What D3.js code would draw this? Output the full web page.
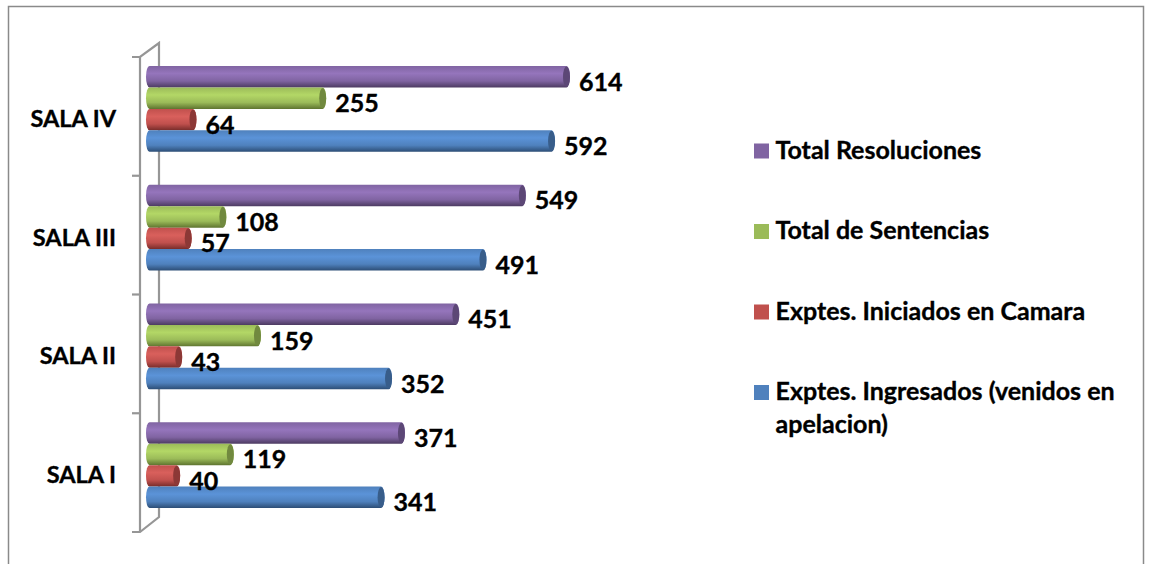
<!DOCTYPE html>
<html>
<head>
<meta charset="utf-8">
<script src="https://cdnjs.cloudflare.com/ajax/libs/d3/7.8.5/d3.min.js"></script>
<style>
  html, body { margin: 0; padding: 0; background: #fff; }
  svg { display: block; }
  text { font-family: Lato, "Noto Sans", sans-serif; font-weight: 700; fill: #000; stroke: #000; stroke-width: 0.35px; }
</style>
</head>
<body>
<svg id="chart" width="1149" height="564"></svg>
<script>
const categories = ['SALA I', 'SALA II', 'SALA III', 'SALA IV'];
// orden de abajo hacia arriba dentro de cada sala
const seriesNames = ['Exptes. Ingresados', 'Exptes. Iniciados', 'Total de Sentencias', 'Total Resoluciones'];
const ingresados = [341, 352, 491, 592];
const iniciados = [40, 43, 57, 64];
const sentencias = [119, 159, 108, 255];
const resoluciones = [371, 451, 549, 614];
const seriesValues = [ingresados, iniciados, sentencias, resoluciones];

const seriesColors = [
  { light: '#5B93D8', mid: '#4F81BD', dark: '#2C4D75', cap: '#385D8A' },
  { light: '#D9605C', mid: '#C0504D', dark: '#772C2A', cap: '#8C3836' },
  { light: '#B3D766', mid: '#9BBB59', dark: '#5F7530', cap: '#71893F' },
  { light: '#9575BC', mid: '#8064A2', dark: '#4D3B62', cap: '#5C4776' }
];
const legendLabels = [
  ['Total Resoluciones'],
  ['Total de Sentencias'],
  ['Exptes. Iniciados en Camara'],
  ['Exptes. Ingresados (venidos en', 'apelacion)']
];
const legendColors = ['#8064A2', '#9BBB59', '#C0504D', '#4F81BD'];

const svg = d3.select('#chart');
const defs = svg.append('defs');

// gradiente vertical de cada cilindro
seriesColors.forEach((c, i) => {
  const g = defs.append('linearGradient').attr('id', `cyl-${i}`)
    .attr('x1', 0).attr('y1', 0).attr('x2', 0).attr('y2', 1);
  g.append('stop').attr('offset', '0%').attr('stop-color', c.mid);
  g.append('stop').attr('offset', '35%').attr('stop-color', c.light);
  g.append('stop').attr('offset', '70%').attr('stop-color', c.mid);
  g.append('stop').attr('offset', '100%').attr('stop-color', c.dark);
});

// marco exterior
svg.append('path')
  .attr('d', 'M8.5,564V6.5H1143.5V564')
  .attr('fill', 'none').attr('stroke', '#8a8a8a').attr('stroke-width', 1.5);

const capRx = 3.5;
const x = d3.scaleLinear().domain([0, 614]).range([146 + capRx, 570 - capRx]);
const yFront = d3.scalePoint().domain(d3.range(5)).range([532, 57]);
const y0 = d3.scaleBand().domain(categories).range([524.5, 49.5])
  .paddingInner(0.277).paddingOuter(0.1385);
const y1 = d3.scaleBand().domain(seriesNames).range([y0.bandwidth(), 0]);

// eje en perspectiva
const wall = svg.append('g').attr('fill', 'none').attr('stroke', '#969696').attr('stroke-width', 2.2);
wall.append('path').attr('d', `M132,${yFront(4)}H140L159,${yFront(4) - 14}V${yFront(0) - 15}L140,${yFront(0)}H132`);
wall.append('path').attr('d', `M140,${yFront(4)}V${yFront(0)}`);
d3.range(1, 4).forEach(i => {
  wall.append('path').attr('d', `M132,${yFront(i)}H140`);
});

const groups = svg.selectAll('g.sala').data(categories).join('g')
  .attr('class', 'sala')
  .attr('transform', d => `translate(0,${y0(d)})`);

seriesNames.slice().reverse().forEach(name => {
  const s = seriesNames.indexOf(name);
  const h = y1.bandwidth();
  const ry = h / 2;
  groups.append('path')
    .attr('fill', `url(#cyl-${s})`)
    .attr('d', (d, i) => {
      const xe = x(seriesValues[s][i]);
      const top = y1(name);
      return `M${x(0)},${top}H${xe}A${capRx},${ry} 0 0 1 ${xe},${top + h}H${x(0)}A${capRx},${ry} 0 0 1 ${x(0)},${top}Z`;
    });
  groups.append('ellipse')
    .attr('fill', seriesColors[s].cap)
    .attr('cx', (d, i) => x(seriesValues[s][i]))
    .attr('cy', y1(name) + ry)
    .attr('rx', capRx)
    .attr('ry', ry - 0.5);
});

// los valores van encima de todas las barras
seriesNames.forEach((name, s) => {
  groups.append('text')
    .attr('x', (d, i) => x(seriesValues[s][i]) + capRx + 9)
    .attr('y', y1(name) + y1.bandwidth() / 2 + 14)
    .attr('font-size', 25)
    .text((d, i) => seriesValues[s][i]);
});

// etiquetas de categoria
svg.selectAll('text.cat').data(categories).join('text')
  .attr('class', 'cat')
  .attr('x', 116)
  .attr('y', d => y0(d) + y0.bandwidth() / 2 + 18)
  .attr('text-anchor', 'end')
  .attr('font-size', 23.5)
  .text(d => d);

// leyenda
const legendY = d3.scalePoint().domain(d3.range(4)).range([150.5, 392]);
legendLabels.forEach((lines, i) => {
  svg.append('rect')
    .attr('x', 754).attr('y', legendY(i) - 7)
    .attr('width', 15).attr('height', 15)
    .attr('fill', legendColors[i]);
  lines.forEach((line, j) => {
    svg.append('text')
      .attr('x', 775.5).attr('y', legendY(i) + 8 + j * 33)
      .attr('font-size', 25)
      .text(line);
  });
});
</script>
</body>
</html>
